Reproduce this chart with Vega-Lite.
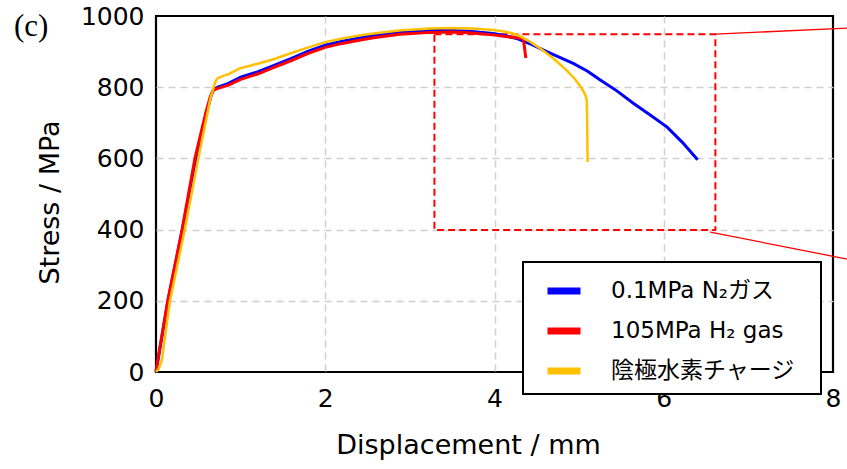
{
  "$schema": "https://vega.github.io/schema/vega-lite/v6.json",
  "width": 677,
  "height": 356,
  "autosize": {"type": "none"},
  "padding": {"left": 156, "top": 16, "right": 14, "bottom": 97},
  "title": {"text": "(c)", "anchor": "start", "frame": "group", "orient": "top", "font": "Liberation Serif", "fontSize": 31, "fontWeight": "normal", "color": "#000", "baseline": "alphabetic", "offset": 0, "dx": -142, "dy": 63},
  "config": {
    "view": {"stroke": "#000", "strokeWidth": 2.2},
    "font": "DejaVu Sans",
    "axis": {
      "domain": false, "ticks": false, "labelFlush": false,
      "grid": true, "gridColor": "#d0d0d0", "gridDash": [7, 5], "gridWidth": 1.5,
      "labelFont": "DejaVu Sans", "labelFontSize": 25, "labelColor": "#000",
      "titleFont": "DejaVu Sans", "titleFontSize": 27, "titleFontWeight": "normal", "titleColor": "#000"
    },
    "legend": {"strokeWidth": 2}
  },
  "datasets": {
    "curves": [
      {"s": "a", "x": 0, "y": 0}, {"s": "a", "x": 0.02, "y": 28}, {"s": "a", "x": 0.14, "y": 198}, {"s": "a", "x": 0.31, "y": 398}, {"s": "a", "x": 0.47, "y": 598}, {"s": "a", "x": 0.6, "y": 730}, {"s": "a", "x": 0.65, "y": 775}, {"s": "a", "x": 0.68, "y": 794}, {"s": "a", "x": 0.73, "y": 800}, {"s": "a", "x": 0.85, "y": 810}, {"s": "a", "x": 1.0, "y": 828}, {"s": "a", "x": 1.2, "y": 843}, {"s": "a", "x": 1.38, "y": 860}, {"s": "a", "x": 1.6, "y": 881}, {"s": "a", "x": 1.8, "y": 901}, {"s": "a", "x": 2.0, "y": 918}, {"s": "a", "x": 2.2, "y": 929}, {"s": "a", "x": 2.4, "y": 938}, {"s": "a", "x": 2.57, "y": 945}, {"s": "a", "x": 2.88, "y": 954}, {"s": "a", "x": 3.25, "y": 959}, {"s": "a", "x": 3.5, "y": 959}, {"s": "a", "x": 3.7, "y": 957}, {"s": "a", "x": 3.98, "y": 951}, {"s": "a", "x": 4.12, "y": 945}, {"s": "a", "x": 4.26, "y": 937}, {"s": "a", "x": 4.42, "y": 922}, {"s": "a", "x": 4.58, "y": 904}, {"s": "a", "x": 4.75, "y": 886}, {"s": "a", "x": 4.93, "y": 867}, {"s": "a", "x": 5.1, "y": 845}, {"s": "a", "x": 5.25, "y": 820}, {"s": "a", "x": 5.45, "y": 789}, {"s": "a", "x": 5.64, "y": 755}, {"s": "a", "x": 5.84, "y": 722}, {"s": "a", "x": 6.04, "y": 688}, {"s": "a", "x": 6.22, "y": 645}, {"s": "a", "x": 6.4, "y": 596},
      {"s": "b", "x": 0, "y": 0}, {"s": "b", "x": 0.02, "y": 32}, {"s": "b", "x": 0.14, "y": 202}, {"s": "b", "x": 0.31, "y": 402}, {"s": "b", "x": 0.46, "y": 600}, {"s": "b", "x": 0.59, "y": 730}, {"s": "b", "x": 0.64, "y": 772}, {"s": "b", "x": 0.67, "y": 790}, {"s": "b", "x": 0.72, "y": 796}, {"s": "b", "x": 0.85, "y": 805}, {"s": "b", "x": 1.0, "y": 822}, {"s": "b", "x": 1.2, "y": 837}, {"s": "b", "x": 1.38, "y": 854}, {"s": "b", "x": 1.6, "y": 875}, {"s": "b", "x": 1.8, "y": 895}, {"s": "b", "x": 2.0, "y": 912}, {"s": "b", "x": 2.2, "y": 923}, {"s": "b", "x": 2.4, "y": 932}, {"s": "b", "x": 2.57, "y": 939}, {"s": "b", "x": 2.88, "y": 949}, {"s": "b", "x": 3.25, "y": 954}, {"s": "b", "x": 3.5, "y": 955}, {"s": "b", "x": 3.7, "y": 953}, {"s": "b", "x": 3.98, "y": 947}, {"s": "b", "x": 4.15, "y": 942}, {"s": "b", "x": 4.34, "y": 937}, {"s": "b", "x": 4.355, "y": 910}, {"s": "b", "x": 4.37, "y": 882},
      {"s": "c", "x": 0, "y": 0}, {"s": "c", "x": 0.03, "y": 8}, {"s": "c", "x": 0.07, "y": 34}, {"s": "c", "x": 0.165, "y": 200}, {"s": "c", "x": 0.34, "y": 400}, {"s": "c", "x": 0.5, "y": 600}, {"s": "c", "x": 0.64, "y": 765}, {"s": "c", "x": 0.7, "y": 815}, {"s": "c", "x": 0.73, "y": 826}, {"s": "c", "x": 0.85, "y": 836}, {"s": "c", "x": 0.99, "y": 853}, {"s": "c", "x": 1.2, "y": 866}, {"s": "c", "x": 1.38, "y": 878}, {"s": "c", "x": 1.6, "y": 896}, {"s": "c", "x": 1.8, "y": 912}, {"s": "c", "x": 1.99, "y": 926}, {"s": "c", "x": 2.2, "y": 937}, {"s": "c", "x": 2.4, "y": 945}, {"s": "c", "x": 2.57, "y": 951}, {"s": "c", "x": 2.9, "y": 960}, {"s": "c", "x": 3.25, "y": 965}, {"s": "c", "x": 3.5, "y": 966}, {"s": "c", "x": 3.75, "y": 965}, {"s": "c", "x": 3.98, "y": 961}, {"s": "c", "x": 4.13, "y": 956}, {"s": "c", "x": 4.26, "y": 948}, {"s": "c", "x": 4.42, "y": 928}, {"s": "c", "x": 4.57, "y": 904}, {"s": "c", "x": 4.7, "y": 880}, {"s": "c", "x": 4.85, "y": 848}, {"s": "c", "x": 4.95, "y": 823}, {"s": "c", "x": 5.03, "y": 797}, {"s": "c", "x": 5.07, "y": 780}, {"s": "c", "x": 5.09, "y": 764}, {"s": "c", "x": 5.095, "y": 700}, {"s": "c", "x": 5.1, "y": 590}
    ]
  },
  "layer": [
    {
      "data": {"values": [{"x1": 3.29, "x2": 6.61, "y1": 399, "y2": 949}]},
      "mark": {"type": "rect", "fill": null, "fillOpacity": 0, "stroke": "#FF0000", "strokeWidth": 2, "strokeDash": [7, 4]},
      "encoding": {
        "x": {"field": "x1", "type": "quantitative", "scale": {"domain": [0, 8], "nice": false}}, "x2": {"field": "x2"},
        "y": {"field": "y1", "type": "quantitative", "scale": {"domain": [0, 1000], "nice": false}}, "y2": {"field": "y2"}
      }
    },
    {
      "data": {"values": [{"x1": 6.61, "y1": 949, "x2": 8.17, "y2": 966}, {"x1": 6.55, "y1": 393, "x2": 8.17, "y2": 317}]},
      "mark": {"type": "rule", "color": "#FF0000", "strokeWidth": 1.3, "clip": false},
      "encoding": {
        "x": {"field": "x1", "type": "quantitative", "scale": {"domain": [0, 8], "nice": false}}, "x2": {"field": "x2"},
        "y": {"field": "y1", "type": "quantitative", "scale": {"domain": [0, 1000], "nice": false}}, "y2": {"field": "y2"}
      }
    },
    {
      "data": {"name": "curves"},
      "transform": [{"filter": "datum.s == 'a'"}],
      "mark": {"type": "line", "strokeWidth": 3},
      "encoding": {
        "x": {"field": "x", "type": "quantitative", "scale": {"domain": [0, 8], "nice": false}},
        "y": {"field": "y", "type": "quantitative", "scale": {"domain": [0, 1000], "nice": false}},
        "color": {"field": "s", "type": "nominal"}
      }
    },
    {
      "data": {"name": "curves"},
      "transform": [{"filter": "datum.s == 'b'"}],
      "mark": {"type": "line", "strokeWidth": 3},
      "encoding": {
        "x": {"field": "x", "type": "quantitative", "scale": {"domain": [0, 8], "nice": false}},
        "y": {"field": "y", "type": "quantitative", "scale": {"domain": [0, 1000], "nice": false}},
        "color": {"field": "s", "type": "nominal"}
      }
    },
    {
      "data": {"name": "curves"},
      "transform": [{"filter": "datum.s == 'c'"}],
      "mark": {"type": "line", "strokeWidth": 2.5},
      "encoding": {
        "x": {"field": "x", "type": "quantitative", "scale": {"domain": [0, 8], "nice": false},
          "axis": {"values": [0, 2, 4, 6, 8], "format": "d", "title": "Displacement / mm", "labelPadding": 14, "titleX": 312, "titleY": 81, "titleBaseline": "alphabetic",
            "gridOpacity": {"condition": {"test": "datum.value == 0 || datum.value == 8", "value": 0}, "value": 1}}},
        "y": {"field": "y", "type": "quantitative", "scale": {"domain": [0, 1000], "nice": false},
          "axis": {"values": [0, 200, 400, 600, 800, 1000], "format": "d", "title": "Stress / MPa", "labelPadding": 12, "titleX": -106, "titleY": 186, "titleBaseline": "middle", "titleAngle": -90,
            "gridOpacity": {"condition": {"test": "datum.value == 0 || datum.value == 1000", "value": 0}, "value": 1}}},
        "color": {"field": "s", "type": "nominal",
          "scale": {"domain": ["a", "b", "c"], "range": ["#0000FF", "#FF0000", "#FFC000"]},
          "legend": {
            "title": null, "orient": "none", "legendX": 367, "legendY": 246,
            "strokeColor": "#000", "padding": 9, "fillColor": "#fff",
            "labelExpr": "datum.value == 'a' ? '0.1MPa  N₂ガス' : datum.value == 'b' ? '105MPa  H₂ gas' : '陰極水素チャージ\u2800'",
            "labelFont": "DejaVu Sans, Noto Sans CJK JP", "labelFontSize": 23, "labelColor": "#000", "labelLimit": 400,
            "symbolType": "stroke", "symbolSize": 1089, "symbolStrokeWidth": 7, "symbolOffset": 12,
            "labelOffset": 27, "rowPadding": 6
          }}
      }
    }
  ],
  "resolve": {"scale": {"color": "shared"}}
}
